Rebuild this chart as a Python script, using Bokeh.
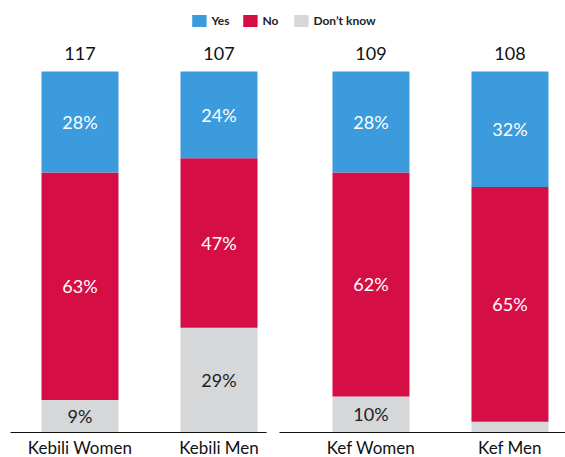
from bokeh.plotting import figure
from bokeh.models import ColumnDataSource, Legend, LegendItem, Range1d
from bokeh.core.properties import value
from bokeh.embed import file_html
from bokeh.resources import INLINE

# ---- data ----
categories = ["Kebili Women", "Kebili Men", "Kef Women", "Kef Men"]
group_index = [0, 0, 1, 1]
totals = [117, 107, 109, 108]
yes = [28, 24, 28, 32]
no = [63, 47, 62, 65]
dont_know = [9, 29, 10, 3]

# ---- style / layout ----
BLUE = "#3C9BDC"
RED = "#D50F46"
GRAY = "#D6D7D9"
FONT = "Lato"
GROUP_GAP = 0.0935
BAR_W = 0.554

x = [i + g * GROUP_GAP for i, g in enumerate(group_index)]

src = ColumnDataSource(dict(
    x=x, cat=categories, yes=yes, no=no, dk=dont_know,
    total=[str(t) for t in totals],
    top=[a + b + c for a, b, c in zip(yes, no, dont_know)],
))

p = figure(width=565, height=457, output_backend="svg", toolbar_location=None,
           x_range=Range1d(-0.572, 3.493), y_range=Range1d(-6.93, 119.67),
           x_axis_location=None, y_axis_location=None, min_border=0)
p.grid.visible = False
p.outline_line_color = None

rs = p.vbar_stack(["dk", "no", "yes"], x="x", width=BAR_W, color=[GRAY, RED, BLUE],
                  line_color=None, source=src)
r_dk, r_no, r_yes = rs

# segment labels
lx, ly, lt, lc = [], [], [], []
for xi, d, n, y in zip(x, dont_know, no, yes):
    for val, mid, col in ((d, d / 2, "#222222"), (n, d + n / 2, "white"), (y, d + n + y / 2, "white")):
        if val >= 5:
            lx.append(xi); ly.append(mid); lt.append(f"{val}%"); lc.append(col)
lab = ColumnDataSource(dict(x=lx, y=ly, t=lt, c=lc))
p.text(x="x", y="y", text="t", text_color="c", source=lab, text_align="center",
       text_baseline="middle", text_font=value(FONT), text_font_size="18px")

# totals above bars
p.text(x="x", y="top", text="total", source=src, text_align="center",
       text_baseline="bottom", y_offset=-12, text_color="#111111",
       text_font=value(FONT), text_font_size="18px")

# category labels under baseline
p.text(x="x", y=0, text="cat", source=src, text_align="center",
       text_baseline="top", y_offset=5, text_color="#111111",
       text_font=value(FONT), text_font_size="17px")

# group baselines
p.segment(x0=[-0.5, 1.435], y0=[0, 0], x1=[1.342, 3.6], y1=[0, 0],
          line_color="#111111", line_width=1.2)

legend = Legend(items=[LegendItem(label="Yes", renderers=[r_yes]),
                       LegendItem(label="No", renderers=[r_no]),
                       LegendItem(label="Don\u2019t know", renderers=[r_dk])],
                orientation="horizontal", location="top_center",
                glyph_width=18, glyph_height=15, label_height=15, label_standoff=4,
                spacing=9, padding=0, margin=13,
                label_text_font=FONT, label_text_font_size="12px",
                label_text_font_style="bold", label_text_color="#222222",
                border_line_alpha=0, background_fill_alpha=0)
p.add_layout(legend, "center")

open("out.html", "w").write(file_html(p, INLINE))
